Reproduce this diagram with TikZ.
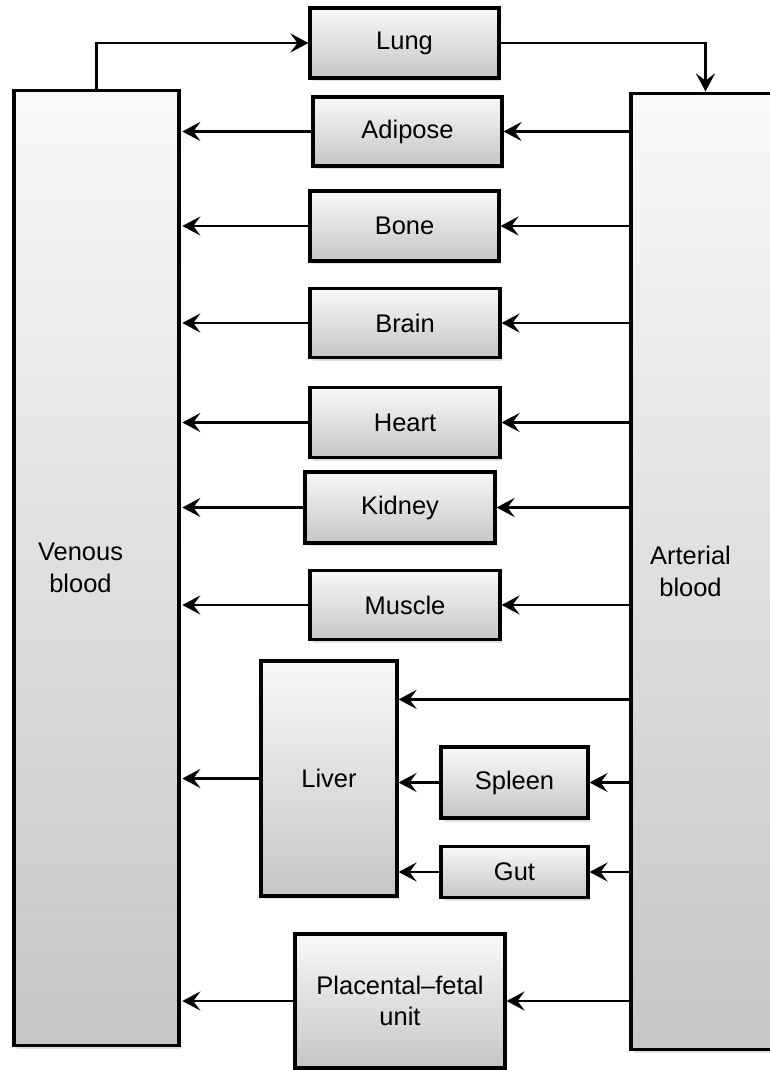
\documentclass[tikz,border=0pt]{standalone}
\usepackage{fontspec}
\setmainfont{Liberation Sans}
\usetikzlibrary{positioning}
\usetikzlibrary{calc}
\usetikzlibrary{arrows.meta, shadows}
\tikzstyle{box} = [rectangle, draw=black, line width=1.8pt, top color=gray!5, bottom color=gray!45, drop shadow={opacity=0.25, shadow xshift=0.05cm, shadow yshift=-0.07cm}, align=center, font=\fontsize{14.5}{18}\selectfont]
\tikzstyle{arrow} = [line width=1.6pt, -{Stealth[length=0.36cm, width=0.38cm, inset=0.14cm]}]

\begin{document}
\begin{tikzpicture}[x=0.02cm, y=-0.02cm]
    \useasboundingbox (0,0) rectangle (769,1070);

    % --- blood pools ---

    % venous blood on the left
    \node[box, minimum width=3.3cm, minimum height=19.12cm] at (96.5, 568) (venous) {};
    \node[font=\fontsize{14.5}{18}\selectfont, align=center] at ($(venous.center) + (-16, 0)$) (venous_text) {Venous\\blood};

    % arterial blood on the right
    \node[box, minimum width=2.98cm, minimum height=19.14cm] at (705.5, 571.5) (arterial) {};
    \node[font=\fontsize{14.5}{18}\selectfont, align=center] at ($(arterial.center) + (-15, 0)$) (arterial_text) {Arterial\\blood};

    % --- organs ---

    % Lung on the top
    \node[box, minimum width=3.78cm, minimum height=1.4cm] at (404.5, 43) (lung) {Lung};

    \node[box, minimum width=3.78cm, minimum height=1.38cm] at (407.5, 131.5) (adipose) {Adipose};
    \node[box, minimum width=3.78cm, minimum height=1.4cm] at (404.5, 226) (bone) {Bone};
    \node[box, minimum width=3.8cm, minimum height=1.38cm] at (405, 323) (brain) {Brain};
    \node[box, minimum width=3.8cm, minimum height=1.4cm] at (405, 422.5) (heart) {Heart};
    \node[box, minimum width=3.8cm, minimum height=1.42cm] at (400, 507.5) (kidney) {Kidney};
    \node[box, minimum width=3.8cm, minimum height=1.38cm] at (405, 605) (muscle) {Muscle};

    % liver with spleen and gut on its right
    \node[box, minimum width=2.72cm, minimum height=4.7cm] at (329, 778.5) (liver) {Liver};
    \node[box, minimum width=2.94cm, minimum height=1.42cm] at (514.5, 782.5) (spleen) {Spleen};
    \node[box, minimum width=2.94cm, minimum height=1.02cm] at (514.5, 872) (gut) {Gut};

    % placental-fetal unit at the bottom
    \node[box, minimum width=4.2cm, minimum height=2.68cm] at (400, 1001) (placental) {Placental--fetal\\unit};

    % --- connectors ---

    % venous blood through the lung to arterial blood
    \draw[arrow] (venous.north) |- (lung.west);
    \draw[arrow] (lung.east) -| (arterial.north);

    % arterial blood to each organ, each organ back to venous blood
    \foreach \organ in {adipose, bone, brain, heart, kidney, muscle, placental} {
        \draw[arrow] (arterial.west |- \organ.east) -- (\organ.east);
        \draw[arrow, shorten >=1pt] (\organ.west) -- (venous.east |- \organ.west);
    }

    % hepatic artery into the liver
    \coordinate (liver_in) at ($(liver.north east) + (0, 40)$);
    \draw[arrow] (arterial.west |- liver_in) -- (liver_in);

    % spleen and gut drain into the liver
    \draw[arrow] (arterial.west |- spleen.east) -- (spleen.east);
    \draw[arrow] (arterial.west |- gut.east) -- (gut.east);
    \draw[arrow] (spleen.west) -- (liver.east |- spleen.west);
    \draw[arrow] (gut.west) -- (liver.east |- gut.west);

    % liver back to venous blood
    \draw[arrow, shorten >=1pt] (liver.west) -- (venous.east |- liver.west);

\end{tikzpicture}
\end{document}
